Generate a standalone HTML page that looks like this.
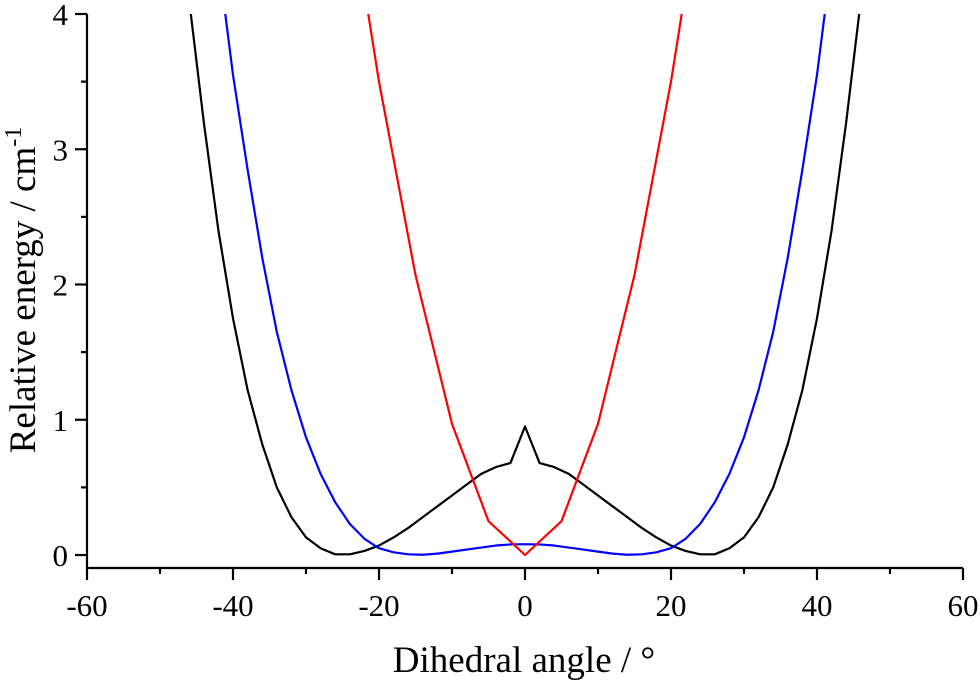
<!DOCTYPE html>
<html><head><meta charset="utf-8"><style>
body{margin:0;background:#fff}
text{font-family:"Liberation Serif",serif;fill:#000}
</style></head><body>
<svg id="chart" width="980" height="683" viewBox="0 0 980 683">
<defs><clipPath id="clip"><rect x="87" y="14" width="876" height="554"/></clipPath></defs>
<g id="axes"></g>
<g id="series" clip-path="url(#clip)"></g>
<text x="524" y="672" font-size="37" text-anchor="middle">Dihedral angle / °</text>
<text transform="translate(35,290) rotate(-90)" font-size="37" text-anchor="middle">Relative energy / cm<tspan dy="-14" font-size="24">-1</tspan></text>
</svg>
<script>
const halfX = [0,2,4,6,8,10,12,14,16,18,20,22,24,26,28,30,32,34,36,38,40,42,44,46];
const blackHalf = [0.95,0.68,0.65,0.60,0.52,0.44,0.36,0.28,0.20,0.13,0.07,0.03,0.005,0.005,0.05,0.13,0.28,0.5,0.82,1.22,1.75,2.4,3.2,4.1];
const blueHalf = [0.08,0.078,0.07,0.055,0.04,0.025,0.01,0.002,0.005,0.02,0.05,0.12,0.23,0.39,0.6,0.87,1.22,1.65,2.2,2.85,3.55,4.4,5.2,6.0];
const redX = [0,5,10,15,20,25];
const redHalf = [0,0.25,0.97,2.07,3.5,5.2];
const xTicks = [-60,-40,-20,0,20,40,60];
const yTicks = [0,1,2,3,4];
const NS="http://www.w3.org/2000/svg";
const X=v=>525+v*7.3, Y=v=>555-v*135.25;
const axes=document.getElementById('axes'), ser=document.getElementById('series');
function mk(tag,attrs,parent){const e=document.createElementNS(NS,tag);for(const k in attrs)e.setAttribute(k,attrs[k]);parent.appendChild(e);return e;}
let e=mk('line',{x1:87,y1:14,x2:87,y2:569,stroke:'#000','stroke-width':2.2},axes);


e=mk('line',{x1:86,y1:568,x2:963,y2:568,stroke:'#000','stroke-width':2.2},axes);


for(let v=-60;v<=60;v+=10){const major=v%20===0;
 e=mk('line',{x1:X(v),y1:568,x2:X(v),y2:568+(major?12:6),stroke:'#000','stroke-width':2.2},axes);
 
 }
xTicks.forEach(v=>{e=mk('text',{x:X(v),y:616,'font-size':31,'text-anchor':'middle'},axes);e.textContent=v;
 
 });
for(let v=0;v<=4;v+=0.5){const major=v%1===0;
 e=mk('line',{x1:87,y1:Y(v),x2:87-(major?12:6),y2:Y(v),stroke:'#000','stroke-width':2.2},axes);
 
 }
yTicks.forEach(v=>{e=mk('text',{x:68,y:Y(v)+11,'font-size':31,'text-anchor':'end'},axes);e.textContent=v;
 
 });
function sym(xs,ys){const pts=[];for(let i=xs.length-1;i>0;i--)pts.push([-xs[i],ys[i]]);for(let i=0;i<xs.length;i++)pts.push([xs[i],ys[i]]);return pts;}
function line(pts,color,name){e=mk('polyline',{points:pts.map(p=>X(p[0])+','+Y(p[1])).join(' '),fill:'none',stroke:color,'stroke-width':2.2,'stroke-linejoin':'round'},ser);
 
 }
line(sym(halfX,blackHalf),'#000','black-series');
line(sym(halfX,blueHalf),'#0000ff','blue-series');
line(sym(redX,redHalf),'#ff0000','red-series');
</script>
</body></html>
